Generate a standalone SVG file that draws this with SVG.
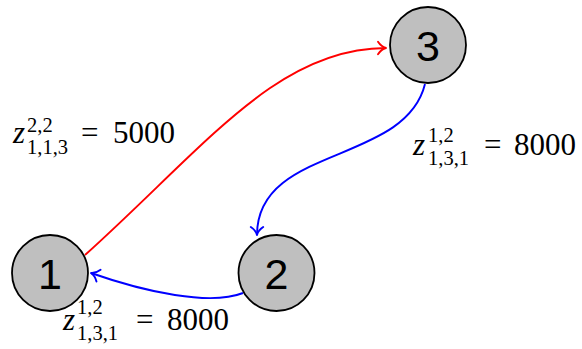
<svg xmlns="http://www.w3.org/2000/svg" width="582" height="349" viewBox="0 0 582 349">
<style>
.node circle{fill:#bfbfbf;stroke:#000;stroke-width:1.8}
.node text{font-family:"Liberation Sans","DejaVu Sans",sans-serif;font-size:43px;text-anchor:middle;fill:#000}
.edge{fill:none;stroke-width:1.9}
.m{font-family:"Liberation Serif","DejaVu Serif",serif;font-size:31px;fill:#000}
.z{font-family:"Liberation Serif","DejaVu Serif",serif;font-size:31px;font-style:italic;fill:#000}
.s{font-family:"Liberation Serif","DejaVu Serif",serif;font-size:20.5px;fill:#000}
</style>
<defs>
<marker id="ar" markerUnits="userSpaceOnUse" viewBox="-10 -8 12 16" markerWidth="12" markerHeight="16" refX="0" refY="0" orient="auto">
<path d="M-8,-6.2 C-5.5,-2.4 -2,-0.5 0,0 C-2,0.5 -5.5,2.4 -8,6.2" fill="none" stroke="red" stroke-width="1.9" stroke-linecap="round" stroke-linejoin="round"/>
</marker>
<marker id="ab" markerUnits="userSpaceOnUse" viewBox="-10 -8 12 16" markerWidth="12" markerHeight="16" refX="0" refY="0" orient="auto">
<path d="M-8,-6.2 C-5.5,-2.4 -2,-0.5 0,0 C-2,0.5 -5.5,2.4 -8,6.2" fill="none" stroke="blue" stroke-width="1.9" stroke-linecap="round" stroke-linejoin="round"/>
</marker>
</defs>
<g id="edges">
<path class="edge" stroke="red" d="M85,255 C204,148 277,48 386,48" marker-end="url(#ar)"/>
<path class="edge" stroke="blue" d="M425,84 C405,165 257,145 257,235" marker-end="url(#ab)"/>
<path class="edge" stroke="blue" d="M243,293 C210,306 145,292 91,273" marker-end="url(#ab)"/>
</g>
<g id="node1" class="node"><circle cx="50" cy="273" r="38"/><text x="50" y="289">1</text></g>
<g id="node2" class="node"><circle cx="276.5" cy="273" r="38"/><text x="276.5" y="289">2</text></g>
<g id="node3" class="node"><circle cx="428" cy="45" r="38"/><text x="428" y="61">3</text></g>
<g id="label13">
<text class="z" x="13" y="143">z</text>
<text class="s" x="27" y="132">2,2</text>
<text class="s" x="27" y="154">1,1,3</text>
<text class="m" x="81" y="143">=</text>
<text class="m" x="113" y="143">5000</text>
</g>
<g id="label32">
<text class="z" x="413" y="155">z</text>
<text class="s" x="428" y="142">1,2</text>
<text class="s" x="428" y="165">1,3,1</text>
<text class="m" x="484" y="155">=</text>
<text class="m" x="514" y="155">8000</text>
</g>
<g id="label21">
<text class="z" x="63" y="330">z</text>
<text class="s" x="77" y="314">1,2</text>
<text class="s" x="77" y="340">1,3,1</text>
<text class="m" x="136" y="330">=</text>
<text class="m" x="167" y="330">8000</text>
</g>
</svg>
